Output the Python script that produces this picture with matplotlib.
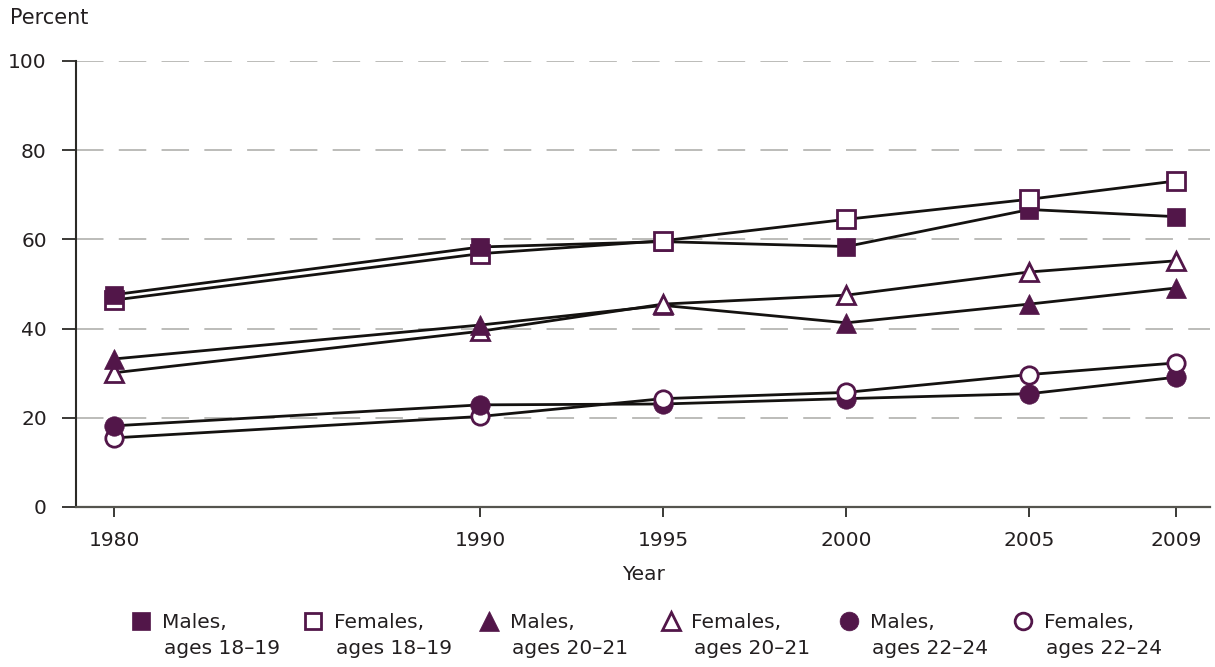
import matplotlib
matplotlib.use("Agg")
import matplotlib.pyplot as plt
from matplotlib.lines import Line2D

plt.rcParams['font.family'] = ['DejaVu Sans']

# data
years = [1980, 1990, 1995, 2000, 2005, 2009]
males_18_19 = [47.6, 58.3, 59.5, 58.4, 66.7, 65.1]
females_18_19 = [46.4, 56.8, 59.7, 64.5, 69.0, 73.1]
males_20_21 = [33.2, 40.8, 45.2, 41.3, 45.5, 49.1]
females_20_21 = [30.1, 39.4, 45.5, 47.5, 52.7, 55.2]
males_22_24 = [18.2, 22.9, 23.1, 24.3, 25.4, 29.1]
females_22_24 = [15.5, 20.3, 24.3, 25.7, 29.7, 32.3]
yticks = [0, 20, 40, 60, 80, 100]

labels = [("Males,", "ages 18\u201319"), ("Females,", "ages 18\u201319"),
          ("Males,", "ages 20\u201321"), ("Females,", "ages 20\u201321"),
          ("Males,", "ages 22\u201324"), ("Females,", "ages 22\u201324")]

PURPLE = "#521649"
LINE = "#141210"
TEXT = "#231f20"
W, H = 1215, 667

series = [
    (males_18_19, "s", True, 13.5),
    (females_18_19, "s", False, 12.5),
    (males_20_21, "^", True, 15),
    (females_20_21, "^", False, 13.5),
    (males_22_24, "o", True, 14),
    (females_22_24, "o", False, 12.5),
]

fig = plt.figure(figsize=(W / 100, H / 100), dpi=100)
ax = fig.add_axes([76 / W, 1 - 507 / H, (1210 - 76) / W, (507 - 61) / H])

for vals, mk, filled, ms in series:
    ax.plot(years, vals, color=LINE, lw=2.0, zorder=2)

# markers point by point: the higher value of a pair sits on top
for vals, mk, filled, ms in series:
    for x, v in zip(years, vals):
        ax.plot([x], [v], ls="none", marker=mk, ms=ms,
                mfc=PURPLE if filled else "white", mec=PURPLE,
                mew=0.5 if filled else 2.0, zorder=3 + v / 1000, clip_on=False)

ax.set_xlim(1978.96, 2009.93)
ax.set_ylim(0, 100)
ax.set_xticks(years)
ax.set_yticks(yticks)
ax.tick_params(axis="y", length=10, width=1.3, color="#2b2a26", pad=11,
               labelsize=14.5, labelcolor=TEXT)
ax.tick_params(axis="x", length=7, width=1.3, color="#2b2a26", pad=10,
               labelsize=14.5, labelcolor=TEXT)

for s in ["top", "right"]:
    ax.spines[s].set_visible(False)
ax.spines["left"].set_color("#2b2a26")
ax.spines["left"].set_linewidth(1.5)
ax.spines["bottom"].set_color("#55544e")
ax.spines["bottom"].set_linewidth(1.6)

ax.yaxis.grid(True, color="#a9a9a6", lw=1.1, dashes=(18, 10))
ax.set_axisbelow(True)

ax.set_xlabel("Year", fontsize=14.5, color=TEXT, labelpad=11)
fig.text(10 / W, 1 - 18 / H, "Percent", fontsize=15, color=TEXT,
         ha="left", va="center")

# legend, drawn by hand so the key sits on the first text line
key_x = [140.5, 313, 488.5, 670.5, 849, 1023]
for i, (l1, l2) in enumerate(labels):
    vals, mk, filled, ms = series[i]
    fig.add_artist(Line2D([key_x[i] / W], [1 - 621 / H], transform=fig.transFigure,
                          ls="none", marker=mk, ms=ms - 0.5,
                          mfc=PURPLE if filled else "white", mec=PURPLE,
                          mew=0.5 if filled else 2.0))
    fig.text((key_x[i] + 21) / W, 1 - 622 / H, l1, fontsize=14.5, color=TEXT,
             ha="left", va="center")
    fig.text((key_x[i] + 23) / W, 1 - 648 / H, l2, fontsize=14.5, color=TEXT,
             ha="left", va="center")

fig.savefig("out.png", dpi=100)
